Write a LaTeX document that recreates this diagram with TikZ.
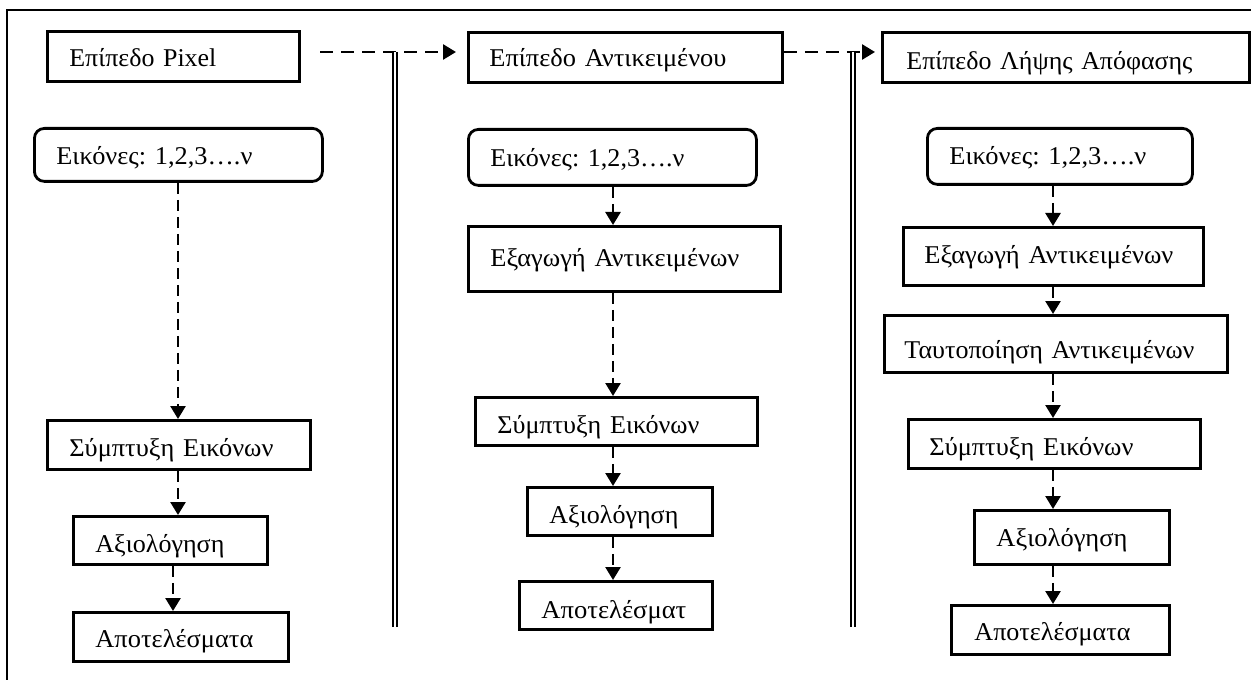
\documentclass[tikz,border=0pt]{standalone}
\usepackage{fontspec}
\setmainfont{Liberation Serif}
\usetikzlibrary{arrows.meta}
\newcommand{\boxfont}{\fontsize{12.8}{15}\selectfont\frenchspacing}
% set a label to a given width, keeping its height
\newcommand{\fitw}[2]{\resizebox{#1}{\height}{#2}}
\begin{document}
\begin{tikzpicture}[x=0.5pt,y=-0.5pt,
  bx/.style={draw, line width=1.4pt, anchor=north west, align=left,
    inner ysep=0pt, text height=12pt, text depth=0pt, font=\boxfont},
  rbx/.style={bx, rounded corners=5pt},
  varr/.style={line width=1.3pt, dash pattern=on 5.5pt off 3pt,
    -{Triangle[length=6.5pt,width=7.5pt]}},
  harr/.style={line width=1.3pt, dash pattern=on 6.5pt off 4pt,
    -{Triangle[length=6.5pt,width=7.5pt]}},
  dbl/.style={double, double distance=1.4pt, line width=0.6pt},
  frame/.style={line width=1pt}]
\useasboundingbox (0,0) rectangle (1251,679);
\clip (0,0) rectangle (1251,679);

% outer frame
\coordinate (fa) at (7,700);
\coordinate (fb) at (7,10);
\coordinate (fc) at (1270,10);
\draw[frame] (fa) -- (fb) -- (fc);

% column 1: pixel level
\node[bx, minimum height=25pt, text width=104pt, inner xsep=11pt, text height=10.5pt] (p1) at (46,30) {\fitw{73.5pt}{Επίπεδο Pixel}};
\node[rbx, minimum height=26.5pt, text width=122pt, inner xsep=11pt, text height=9.5pt] (e1) at (33,127) {\fitw{98pt}{Εικόνες: 1,2,3….ν}};
\node[bx, minimum height=24.5pt, text width=109.5pt, inner xsep=11pt, text height=11.5pt] (s1) at (46,419) {\fitw{102pt}{Σύμπτυξη Εικόνων}};
\node[bx, minimum height=24pt, text width=75pt, inner xsep=11pt, text height=12pt] (a1) at (72,515) {\fitw{64.5pt}{Αξιολόγηση}};
\node[bx, minimum height=24.5pt, text width=85.5pt, inner xsep=11pt, text height=11pt] (r1) at (72,611) {\fitw{79pt}{Αποτελέσματα}};

% column 2: object level
\node[bx, minimum height=25pt, text width=136pt, inner xsep=10.5pt, text height=9.5pt] (p2) at (467,31) {\fitw{118.5pt}{Επίπεδο Αντικειμένου}};
\node[rbx, minimum height=28pt, text width=122pt, inner xsep=11pt, text height=9pt] (e2) at (467,128) {\fitw{97pt}{Εικόνες: 1,2,3….ν}};
\node[bx, minimum height=32.5pt, text width=134pt, inner xsep=11pt, text height=7.5pt] (x2) at (467,225) {\fitw{124.5pt}{Εξαγωγή Αντικειμένων}};
\node[bx, minimum height=24pt, text width=119pt, inner xsep=11pt, text height=11.7pt] (s2) at (474,396) {\fitw{101pt}{Σύμπτυξη Εικόνων}};
\node[bx, minimum height=24pt, text width=70.5pt, inner xsep=11pt, text height=11.7pt] (a2) at (526,486) {\fitw{64.5pt}{Αξιολόγηση}};
\node[bx, minimum height=24pt, text width=74.5pt, inner xsep=11pt, text height=12.7pt] (r2) at (518,580) {\fitw{72.5pt}{Αποτελέσματ}};

% column 3: decision level
\node[bx, minimum height=25pt, text width=159.5pt, inner xsep=12pt, text height=12pt] (p3) at (881,31) {\fitw{143pt}{Επίπεδο Λήψης Απόφασης}};
\node[rbx, minimum height=28pt, text width=110.5pt, inner xsep=11pt, text height=8pt] (e3) at (926,127) {\fitw{98.5pt}{Εικόνες: 1,2,3….ν}};
\node[bx, minimum height=29pt, text width=129pt, inner xsep=10.5pt, text height=6.7pt] (x3) at (902,226) {\fitw{124.5pt}{Εξαγωγή Αντικειμένων}};
\node[bx, minimum height=28.5pt, text width=151.5pt, inner xsep=10pt, text height=14.5pt] (t3) at (883,314) {\fitw{145pt}{Ταυτοποίηση Αντικειμένων}};
\node[bx, minimum height=24.5pt, text width=125pt, inner xsep=10.5pt, text height=11.5pt] (s3) at (907,418) {\fitw{102pt}{Σύμπτυξη Εικόνων}};
\node[bx, minimum height=27pt, text width=75.5pt, inner xsep=11pt, text height=9pt] (a3) at (973,509) {\fitw{65.5pt}{Αξιολόγηση}};
\node[bx, minimum height=24.5pt, text width=86pt, inner xsep=11.5pt, text height=11pt] (r3) at (950,604) {\fitw{78pt}{Αποτελέσματα}};

% flow axes of each column
\coordinate (c1a) at (178,0);
\coordinate (c1b) at (173,0);
\coordinate (c2) at (613,0);
\coordinate (c3) at (1053,0);

% vertical arrows, column 1
\draw[varr] (c1a |- e1.south) -- (c1a |- s1.north);
\draw[varr] (c1a |- s1.south) -- (c1a |- a1.north);
\draw[varr] (c1b |- a1.south) -- (c1b |- r1.north);

% vertical arrows, column 2
\draw[varr] (c2 |- e2.south) -- (c2 |- x2.north);
\draw[varr] (c2 |- x2.south) -- (c2 |- s2.north);
\draw[varr] (c2 |- s2.south) -- (c2 |- a2.north);
\draw[varr] (c2 |- a2.south) -- (c2 |- r2.north);

% vertical arrows, column 3
\draw[varr] (c3 |- e3.south) -- (c3 |- x3.north);
\draw[varr] (c3 |- x3.south) -- (c3 |- t3.north);
\draw[varr] (c3 |- t3.south) -- (c3 |- s3.north);
\draw[varr] (c3 |- s3.south) -- (c3 |- a3.north);
\draw[varr] (c3 |- a3.south) -- (c3 |- r3.north);

% level-to-level arrows along the top
\coordinate (ha) at (320,52);
\coordinate (hy) at (0,52);
\draw[harr, shorten >=5.5pt] (ha) -- (p2.west |- hy);
\draw[harr, shorten >=3pt] (p2.east |- hy) -- (p3.west |- hy);

% double separators between the columns
\coordinate (d1t) at (395,52);
\coordinate (d1b) at (395,627);
\coordinate (d2t) at (853,52);
\coordinate (d2b) at (853,627);
\draw[dbl] (d1t) -- (d1b);
\draw[dbl] (d2t) -- (d2b);
\end{tikzpicture}
\end{document}
